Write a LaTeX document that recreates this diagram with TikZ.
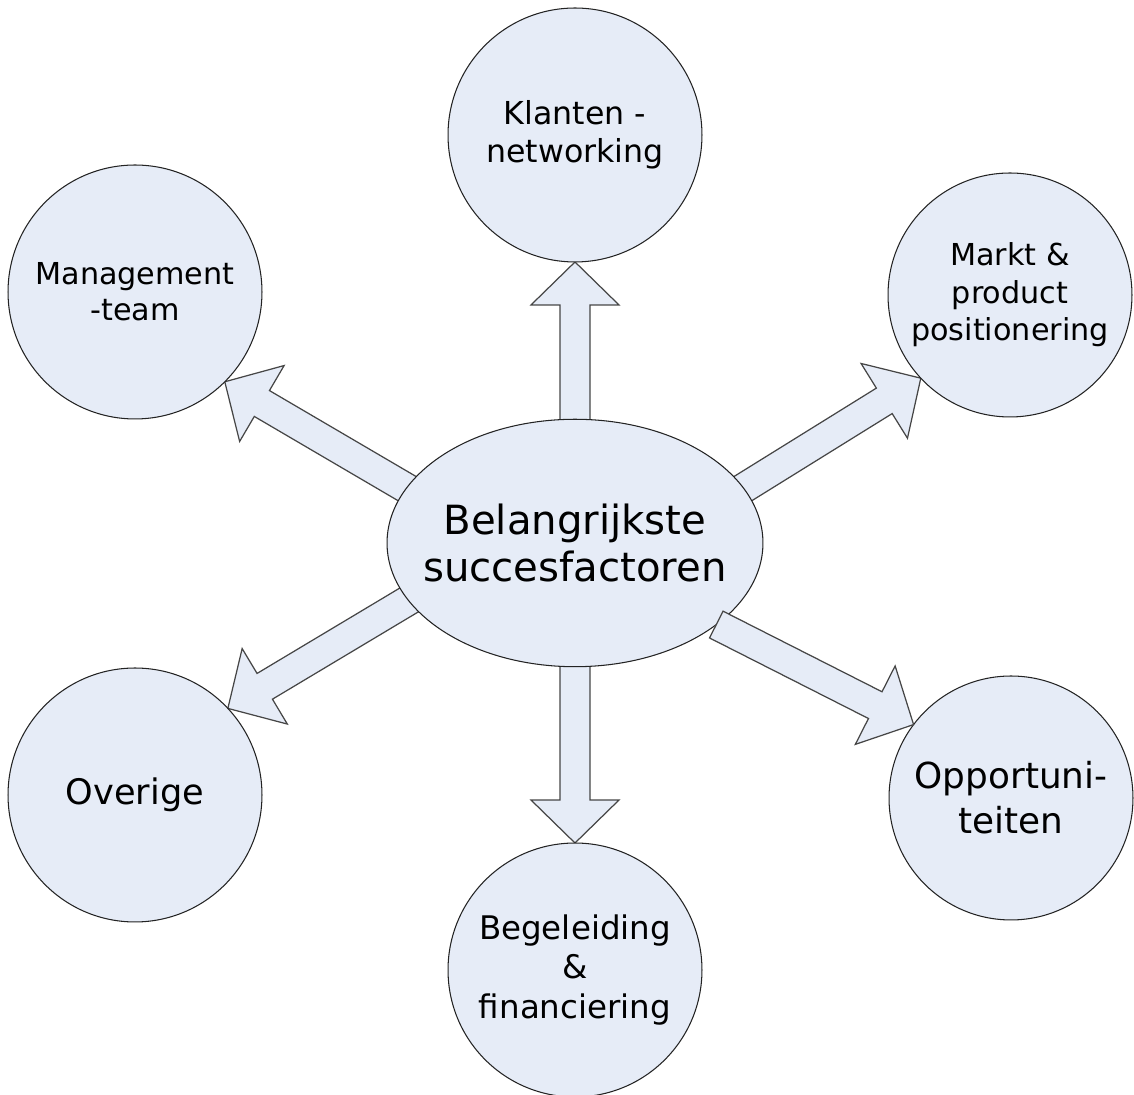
\documentclass[tikz,border=0pt]{standalone}
\usepackage{fontspec}
\setmainfont{DejaVu Sans}
\usetikzlibrary{shapes.geometric, calc, backgrounds}
\definecolor{bubblecolor}{RGB}{230, 236, 247}
\definecolor{linecolor}{RGB}{35, 35, 35}
\definecolor{arrowline}{RGB}{70, 70, 70}

% fat outlined arrow: [push back into start node]{start}{tip}
\newcommand{\blockarrow}[3][0cm]{%
  \coordinate (ba-s) at ($(#2)!-#1!(#3)$);
  \coordinate (ba-h) at ($(#3)!0.86cm!(#2)$);
  \draw[fatarrow] ($(ba-s)!0.3cm!90:(#3)$) -- ($(ba-h)!0.3cm!90:(#3)$)
    -- ($(ba-h)!0.88cm!90:(#3)$) -- (#3)
    -- ($(ba-h)!0.88cm!-90:(#3)$) -- ($(ba-h)!0.3cm!-90:(#3)$)
    -- ($(ba-s)!0.3cm!-90:(#3)$) -- cycle;
}

\begin{document}
\begin{tikzpicture}[
    x=0.02cm, y=0.02cm,
    hub/.style={ellipse, draw=linecolor, fill=bubblecolor, line width=0.6pt, minimum width=7.52cm, minimum height=4.95cm, inner xsep=-0.6cm, inner ysep=0pt, outer sep=0pt, align=center, font=\fontsize{22.9}{27.3}\selectfont},
    factor/.style={circle, draw=linecolor, fill=bubblecolor, line width=0.6pt, minimum size=5.08cm, inner sep=0pt, outer sep=0pt, align=center, font=\fontsize{17.2}{20.5}\selectfont},
    fatarrow/.style={draw=arrowline, fill=bubblecolor, line width=0.7pt, line join=miter}
]
    \useasboundingbox (0, 0) rectangle (1134, 1095);

    % Centre
    \node[hub] (hub) at (575, 552) {Belangrijkste\\succesfactoren};

    % Factors
    \node[factor, font=\fontsize{18}{21.6}\selectfont] (klanten) at (575, 960) {Klanten -\\networking};
    \node[factor] (mgmt) at (135, 803) {Management\\-team};
    \node[factor, minimum size=4.88cm, font=\fontsize{17.2}{21.4}\selectfont] (markt) at (1010, 800) {Markt \&\\product\\positionering};
    \node[factor, font=\fontsize{20}{24}\selectfont] (overige) at (135, 300) {Overige};
    \node[factor, minimum size=4.88cm, font=\fontsize{20.4}{25.6}\selectfont] (opport) at (1011, 297) {Opportuni-\\teiten};
    \node[factor, font=\fontsize{18.5}{22.4}\selectfont] (begel) at (575, 125) {Begeleiding\\\&\\financiering};

    % Arrows
    \begin{scope}[on background layer]
        \blockarrow[0.2cm]{hub.north}{klanten.south}
        \blockarrow[0.2cm]{hub.south}{begel.north}
        \blockarrow[0.2cm]{hub.162}{mgmt.-45}
        \blockarrow[0.2cm]{hub.18}{markt.-137}
        \blockarrow[0.2cm]{hub.199}{overige.43}
    \end{scope}
    \blockarrow{hub.-30}{opport.143}
\end{tikzpicture}
\end{document}
